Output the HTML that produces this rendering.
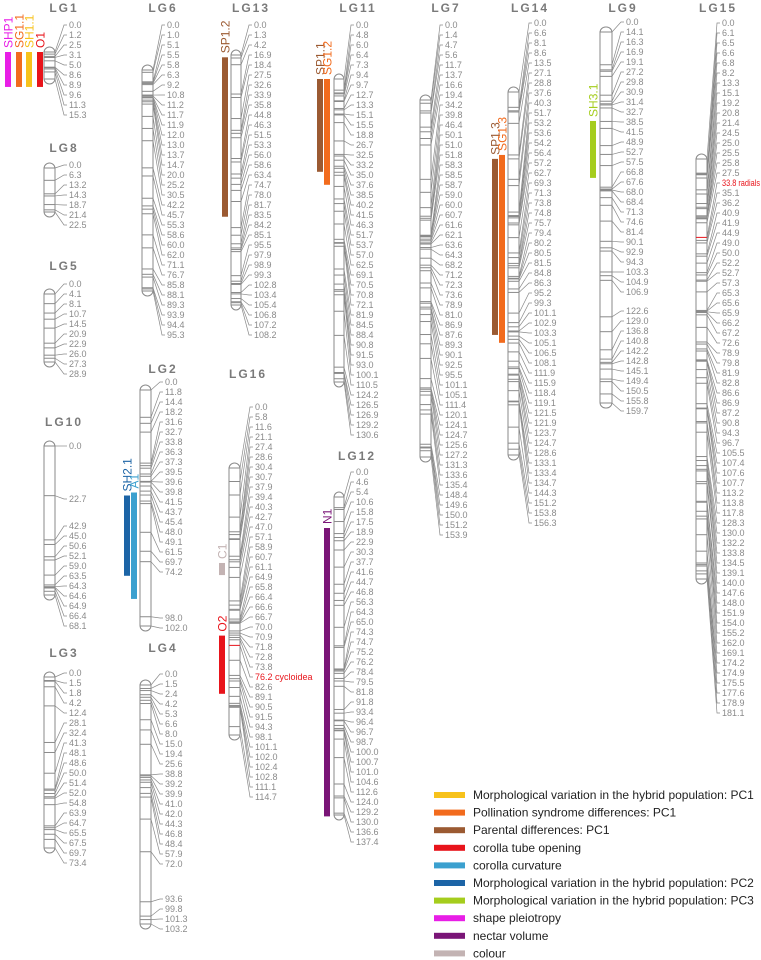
<!DOCTYPE html>
<html><head><meta charset="utf-8">
<style>
html,body{margin:0;padding:0;background:#fff;}
svg{display:block;font-family:"Liberation Sans",sans-serif;}
.lbl{font-size:9px;fill:#8a8a8a;}
.ttl{font-size:12px;font-weight:bold;fill:#7a7a7a;letter-spacing:2px;}
.leg{font-size:12px;fill:#222;}
</style></head>
<body>
<svg id="chart" width="761" height="960" viewBox="0 0 761 960" xmlns="http://www.w3.org/2000/svg"></svg>
<script>
const lg1Labels=["0.0","1.2","2.5","3.1","5.0","8.6","8.9","9.6","11.3","15.3"];
const lg8Labels=["0.0","6.3","13.2","14.3","18.7","21.4","22.5"];
const lg5Labels=["0.0","4.1","8.1","10.7","14.5","20.9","22.9","26.0","27.3","28.9"];
const lg10Labels=["0.0","22.7","42.9","45.0","50.6","52.1","59.0","63.5","64.3","64.6","64.9","66.4","68.1"];
const lg3Labels=["0.0","1.5","1.8","4.2","12.4","28.1","32.4","41.3","48.1","48.6","50.0","51.4","52.0","54.8","63.9","64.7","65.5","67.5","69.7","73.4"];
const lg6Labels=["0.0","1.0","5.1","5.5","5.8","6.3","9.2","10.8","11.2","11.7","11.9","12.0","13.0","13.7","14.7","20.0","25.2","30.5","42.2","45.7","55.3","58.6","60.0","62.0","71.1","76.7","85.8","88.1","89.3","93.9","94.4","95.3"];
const lg2Labels=["0.0","11.8","14.4","18.2","31.6","32.7","33.8","36.3","37.3","39.5","39.6","39.8","41.5","43.7","45.4","48.0","49.1","61.5","69.7","74.2","98.0","102.0"];
const lg4Labels=["0.0","1.5","2.4","4.2","5.3","6.6","8.0","15.0","19.4","25.6","38.8","39.2","39.9","41.0","42.0","44.3","46.8","48.4","57.9","72.0","93.6","99.8","101.3","103.2"];
const lg13Labels=["0.0","1.3","4.2","16.9","18.4","27.5","32.6","33.9","35.8","44.8","46.3","51.5","53.3","56.0","58.6","63.4","74.7","78.0","81.7","83.5","84.2","85.1","95.5","97.9","98.9","99.3","102.8","103.4","105.4","106.8","107.2","108.2"];
const lg16Labels=["0.0","5.8","11.6","21.1","27.4","28.6","30.4","30.7","37.9","39.4","40.3","42.7","47.0","57.1","58.9","60.7","61.1","64.9","65.8","66.4","66.6","66.7","70.0","70.9","71.8","72.8","73.8","76.2 cycloidea","82.6","89.1","90.5","91.5","94.3","98.1","101.1","102.0","102.4","102.8","111.1","114.7"];
const lg11Labels=["0.0","4.8","6.0","6.4","7.3","9.4","9.7","12.7","13.3","15.1","15.5","18.8","26.7","32.5","33.2","35.0","37.6","38.5","40.2","41.5","46.3","51.7","53.7","57.0","62.5","69.1","70.5","70.8","72.1","81.9","84.5","88.4","90.8","91.5","93.0","100.1","110.5","124.2","126.5","126.9","129.2","130.6"];
const lg12Labels=["0.0","4.6","5.4","10.6","15.8","17.5","18.9","22.9","30.3","37.7","41.6","44.7","46.8","56.3","64.3","65.0","74.3","74.7","75.2","76.2","78.4","79.5","81.8","91.8","93.4","96.4","96.7","98.7","100.0","100.7","101.0","104.6","112.6","124.0","129.2","130.0","136.6","137.4"];
const lg7Labels=["0.0","1.4","4.7","5.6","11.7","13.7","16.6","19.4","34.2","39.8","46.4","50.1","51.0","51.8","58.3","58.5","58.7","59.0","60.0","60.7","61.6","62.1","63.6","64.3","68.2","71.2","72.3","73.6","78.9","81.0","86.9","87.6","89.3","90.1","92.5","95.5","101.1","105.1","111.4","120.1","124.1","124.7","125.6","127.2","131.3","133.6","135.4","148.4","149.6","150.0","151.2","153.9"];
const lg14Labels=["0.0","6.6","8.1","8.6","13.5","27.1","28.8","37.6","40.3","51.7","53.2","53.6","54.2","56.4","57.2","62.7","69.3","71.3","73.8","74.8","75.7","79.4","80.2","80.5","81.5","84.8","86.3","95.2","99.3","101.1","102.9","103.3","105.1","106.5","108.1","111.9","115.9","118.4","119.1","121.5","121.9","123.7","124.7","128.6","133.1","133.4","134.7","144.3","151.2","153.8","156.3"];
const lg9Labels=["0.0","14.1","16.3","16.9","19.1","27.2","29.8","30.9","31.4","32.7","38.5","41.5","48.9","52.7","57.5","66.8","67.6","68.0","68.4","71.3","74.6","81.4","90.1","92.9","94.3","103.3","104.9","106.9","122.6","129.0","136.8","140.8","142.2","142.8","145.1","149.4","150.5","155.8","159.7"];
const lg15Labels=["0.0","6.1","6.5","6.6","6.8","8.2","13.3","15.1","19.2","20.8","21.4","24.5","25.0","25.5","25.8","27.5","33.8 radials","35.1","36.2","40.9","41.9","44.9","49.0","50.0","52.2","52.7","57.3","65.3","65.6","65.9","66.2","67.2","72.6","78.9","79.8","81.9","82.8","86.6","86.9","87.2","90.8","94.3","96.7","105.5","107.4","107.6","107.7","113.2","113.8","117.8","128.3","130.0","132.2","133.8","134.5","139.1","140.0","147.6","148.0","151.9","154.0","155.2","162.0","169.1","174.2","174.9","175.5","177.6","178.9","181.1"];

const qtlNames=["SHP1","SG1.1","SH1.1","O1","SP1.2","SP1.1","SG1.2","C1","O2","N1","SH2.1","A1","SP1.3","SG1.3","SH3.1"];
const qtlStart=[0,0,0,0,1,0,0,40.8,72,13.4,45.6,44.3,28.8,27.1,38.3];
const qtlEnd=[19.8,19.8,19.8,19.8,70,40,45.6,46,97,138,80.3,90.3,104.6,108,62.8];
const qtlGroup=["LG1","LG1","LG1","LG1","LG13","LG11","LG11","LG16","LG16","LG12","LG2","LG2","LG14","LG14","LG9"];
const qtlColorKey=["shape","pollination","morphPC1","opening","parental","parental","pollination","colour","opening","nectar","morphPC2","curvature","parental","pollination","morphPC3"];

const legendLabels=["Morphological variation in the hybrid population: PC1","Pollination syndrome differences: PC1","Parental differences: PC1","corolla tube opening","corolla curvature","Morphological variation in the hybrid population: PC2","Morphological variation in the hybrid population: PC3","shape pleiotropy","nectar volume","colour"];
const legendKeys=["morphPC1","pollination","parental","opening","curvature","morphPC2","morphPC3","shape","nectar","colour"];
const colors={morphPC1:"#f7c21b",pollination:"#f26b1d",parental:"#9b5a32",opening:"#e8141b",curvature:"#3ba0cf",morphPC2:"#1c64a6",morphPC3:"#a5cd1d",shape:"#e81ee6",nectar:"#7a1577",colour:"#c3b3b3"};

const groups=[
 {id:"LG1",labels:lg1Labels,tx:64,ty:7,cx:44,cw:11,y0:47,y1:84,lx:69,ly0:25,br:{}},
 {id:"LG8",labels:lg8Labels,tx:64,ty:147,cx:44,cw:11,y0:163,y1:217,lx:69,ly0:165,br:{}},
 {id:"LG5",labels:lg5Labels,tx:64,ty:265,cx:44,cw:11,y0:289,y1:367,lx:69,ly0:284,br:{}},
 {id:"LG10",labels:lg10Labels,tx:64,ty:421,cx:44,cw:11,y0:441,y1:600,lx:69,ly0:446,br:{1:499,2:526}},
 {id:"LG3",labels:lg3Labels,tx:64,ty:652,cx:44,cw:11,y0:672,y1:853,lx:69,ly0:673,br:{}},
 {id:"LG6",labels:lg6Labels,tx:163,ty:7,cx:142,cw:11,y0:65,y1:296,lx:167,ly0:25,br:{}},
 {id:"LG2",labels:lg2Labels,tx:163,ty:368,cx:140,cw:11,y0:385,y1:631,lx:165,ly0:382,br:{20:618}},
 {id:"LG4",labels:lg4Labels,tx:163,ty:647,cx:140,cw:11,y0:680,y1:929,lx:165,ly0:674,br:{20:899}},
 {id:"LG13",labels:lg13Labels,tx:251,ty:7,cx:231,cw:10,y0:50,y1:310,lx:254,ly0:25,br:{}},
 {id:"LG16",labels:lg16Labels,tx:248,ty:373,cx:229,cw:11,y0:463,y1:740,lx:255,ly0:407,br:{}},
 {id:"LG11",labels:lg11Labels,tx:358,ty:7,cx:334,cw:10,y0:74,y1:387,lx:356,ly0:25,br:{}},
 {id:"LG12",labels:lg12Labels,tx:357,ty:455,cx:334,cw:10,y0:492,y1:820,lx:356,ly0:472,br:{}},
 {id:"LG7",labels:lg7Labels,tx:446,ty:7,cx:420,cw:11,y0:95,y1:462,lx:445,ly0:25,br:{}},
 {id:"LG14",labels:lg14Labels,tx:530,ty:7,cx:508,cw:11,y0:87,y1:460,lx:534,ly0:23,br:{}},
 {id:"LG9",labels:lg9Labels,tx:623,ty:7,cx:600,cw:12,y0:27,y1:408,lx:626,ly0:22,br:{28:311}},
 {id:"LG15",labels:lg15Labels,tx:718,ty:7,cx:696,cw:11,y0:154,y1:584,lx:722,ly0:23,br:{}}
];
const qtlX={SHP1:5,"SG1.1":16,"SH1.1":26,O1:37,"SP1.2":222,"SP1.1":317,"SG1.2":324,C1:219,O2:219,N1:324,"SH2.1":124,A1:131,"SP1.3":492,"SG1.3":499,"SH3.1":590};

const NS="http://www.w3.org/2000/svg";
const svg=document.getElementById("chart");
function mk(tag,attrs,parent){const e=document.createElementNS(NS,tag);for(const k in attrs)e.setAttribute(k,attrs[k]);(parent||svg).appendChild(e);return e;}
function maxCM(g){return Math.max(...g.labels.map(s=>parseFloat(s)));}
function yScale(g,cm){const a=g.y0+5,b=g.y1-5;return a+cm/maxCM(g)*(b-a);}
function labelY(g,i){let y=g.ly0;for(let k=0;k<=i;k++){if(g.br[k]!==undefined)y=g.br[k];else if(k>0)y+=10;}return y;}

const byId={};
groups.forEach(g=>{
  byId[g.id]=g;
  const grp=mk("g",{});
  
  
  const t=mk("text",{x:g.tx,y:g.ty+5,"text-anchor":"middle",class:"ttl"},grp);
  t.textContent=g.id;
  
  
  const c=mk("rect",{x:g.cx,y:g.y0,width:g.cw,height:g.y1-g.y0,rx:5.5,ry:5.5,fill:"#fff",stroke:"#8a8a8a","stroke-width":1},grp);
  
  
  g.labels.forEach((lab,i)=>{
    const cm=parseFloat(lab);
    const my=yScale(g,cm);
    const red=lab.indexOf(" ")>0;
    const m=mk("line",{x1:g.cx,x2:g.cx+g.cw,y1:my,y2:my,stroke:red?"#e8141b":"#8a8a8a","stroke-width":1},grp);
    
    
    const ly=labelY(g,i);
    const p=mk("polyline",{points:(g.cx+g.cw)+","+my+" "+(g.lx-5)+","+ly+" "+(g.lx-2)+","+ly,fill:"none",stroke:"#8a8a8a","stroke-width":0.7},grp);
    
    
    const tx=mk("text",{x:g.lx,y:ly+3,class:"lbl"},grp);
    if(red){tx.style.fill="#e8141b";if(g.lx+45>761){tx.setAttribute("textLength",38);tx.setAttribute("lengthAdjust","spacingAndGlyphs");}}
    tx.textContent=lab;
    
    
  });
});

qtlNames.forEach((n,i)=>{
  const g=byId[qtlGroup[i]];
  const col=colors[qtlColorKey[i]];
  const ya=yScale(g,qtlStart[i]),yb=yScale(g,qtlEnd[i]);
  const x=qtlX[n];
  const r=mk("rect",{x:x,y:ya,width:6,height:yb-ya,fill:col});
  
  
  const tx=mk("text",{x:0,y:0,transform:"translate("+(x+7.5)+","+(ya-4)+") rotate(-90)",fill:col,"font-size":"12px"});
  tx.textContent=n;
  
  
});

legendLabels.forEach((lab,i)=>{
  const y=795+i*17.6;
  const s=mk("rect",{x:434,y:y-3,width:31,height:6,fill:colors[legendKeys[i]]});
  
  
  const t=mk("text",{x:473,y:y+4,class:"leg"});
  t.textContent=lab;
  
  
});
</script>
</body></html>
